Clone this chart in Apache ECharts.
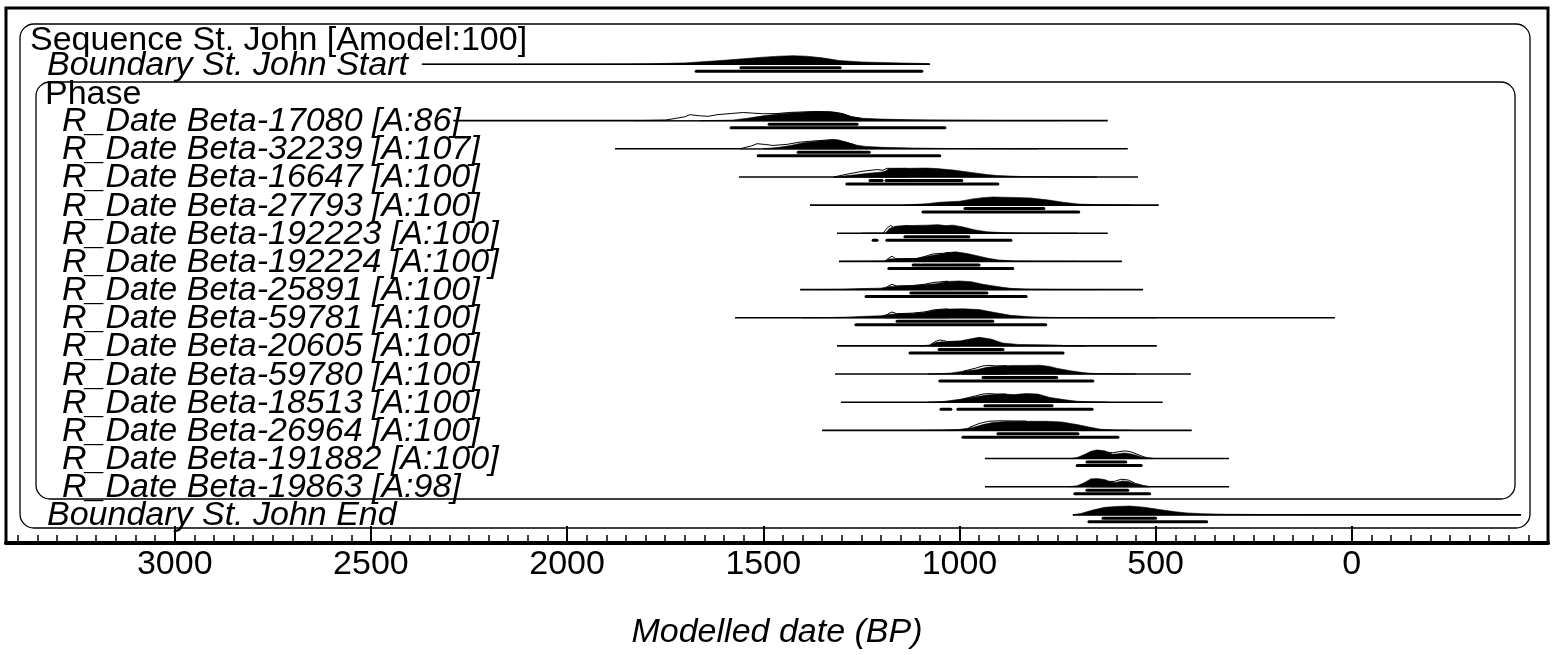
<!DOCTYPE html>
<html><head><meta charset="utf-8">
<script src="https://cdn.jsdelivr.net/npm/echarts@6/dist/echarts.min.js"></script>
<style>html,body{margin:0;padding:0;background:#fff}#c{width:1556px;height:655px}</style>
</head><body><div id="c"></div>
<script>
// ---------- DATA ----------
const rowNames = [
  "Sequence St. John [Amodel:100]",
  "Boundary St. John Start",
  "Phase",
  "R_Date Beta-17080 [A:86]",
  "R_Date Beta-32239 [A:107]",
  "R_Date Beta-16647 [A:100]",
  "R_Date Beta-27793 [A:100]",
  "R_Date Beta-192223 [A:100]",
  "R_Date Beta-192224 [A:100]",
  "R_Date Beta-25891 [A:100]",
  "R_Date Beta-59781 [A:100]",
  "R_Date Beta-20605 [A:100]",
  "R_Date Beta-59780 [A:100]",
  "R_Date Beta-18513 [A:100]",
  "R_Date Beta-26964 [A:100]",
  "R_Date Beta-191882 [A:100]",
  "R_Date Beta-19863 [A:98]",
  "Boundary St. John End"
];
const xTickLabels = [3000, 2500, 2000, 1500, 1000, 500, 0];

// rows that carry a distribution
const distRows = [1, 3, 4, 5, 6, 7, 8, 9, 10, 11, 12, 13, 14, 15, 16, 17];
// extent of each distribution's base line (BP)
const lineFrom = [2370, 2290, 1878, 1562, 1381, 1312, 1307, 1406, 1572, 1312, 1317, 1302, 1350, 935, 935, 711];
const lineTo   = [1075,  622,  571,  545,  492,  622,  586,  532,   43,  497,  410,  482,  408, 313, 313, -431];

// highest posterior density ranges (BP)
const range68 = [
  [[1557,1304]], [[1485,1261]], [[1411,1230]], [[1228,1197],[1187,994]], [[986,785]],
  [[1139,976]], [[1118,1100],[1096,950]], [[1124,930]], [[1159,915]], [[1052,889]],
  [[940,752]], [[935,764]], [[902,698]], [[675,576]], [[675,571]], [[634,500]]
];
const range95 = [
  [[1671,1096]], [[1582,1037]], [[1513,1050]], [[1287,902]], [[1093,696]],
  [[1220,1210],[1185,869]], [[1180,864]], [[1238,830]], [[1264,780]], [[1126,736]],
  [[1050,660]], [[1047,1022],[1004,662]], [[991,596]], [[700,537]], [[706,515]], [[670,370]]
];

// posterior (modelled) probability, relative: [BP, p]
const postStart = [[2370,0],[2000,0.01],[1850,0.03],[1789,0.05],[1700,0.15],[1600,0.42],[1500,0.75],[1460,0.85],[1424,0.9],[1390,0.85],[1350,0.68],[1307,0.4],[1250,0.25],[1150,0.14],[1080,0.08],[1075,0]];
const post17080 = [[1660,0],[1580,0.05],[1540,0.25],[1500,0.5],[1460,0.7],[1420,0.82],[1390,0.9],[1360,0.95],[1320,0.9],[1295,0.7],[1275,0.4],[1250,0.25],[1200,0.16],[1120,0.09],[1040,0.05],[900,0.015],[750,0]];
const post32239 = [[1500,0],[1460,0.15],[1430,0.35],[1400,0.6],[1363,0.8],[1330,0.93],[1310,0.95],[1290,0.7],[1265,0.4],[1240,0.25],[1195,0.15],[1120,0.08],[1050,0.04],[900,0.01],[800,0]];
const post16647 = [[1320,0],[1290,0.12],[1271,0.2],[1228,0.4],[1200,0.5],[1190,0.58],[1180,0.85],[1134,0.9],[1083,0.93],[1057,0.87],[1016,0.72],[966,0.45],[930,0.25],[904,0.15],[846,0.05],[762,0.01],[650,0]];
const post27793 = [[1140,0],[1083,0.15],[1050,0.3],[999,0.4],[966,0.65],[940,0.78],[915,0.85],[863,0.8],[820,0.75],[777,0.55],[736,0.3],[693,0.1],[634,0.03],[560,0]];
const post192223 = [[1250,0],[1215,0.04],[1200,0.01],[1188,0.05],[1178,0.5],[1165,0.7],[1130,0.8],[1083,0.85],[1055,0.9],[1035,0.8],[1016,0.85],[990,0.65],[960,0.35],[930,0.15],[880,0.05],[800,0.01],[700,0]];
const post192224 = [[1300,0],[1230,0.02],[1190,0.05],[1180,0.25],[1150,0.28],[1110,0.3],[1090,0.45],[1067,0.65],[1050,0.75],[1030,0.92],[1010,1.0],[980,0.82],[950,0.55],[930,0.35],[900,0.15],[860,0.05],[800,0.01],[700,0]];
const post25891 = [[1360,0],[1300,0.03],[1250,0.1],[1200,0.15],[1182,0.3],[1160,0.35],[1120,0.4],[1090,0.5],[1060,0.62],[1030,0.85],[1000,0.9],[970,0.82],[940,0.55],[900,0.3],[870,0.13],[830,0.05],[750,0.01],[650,0]];
const post59781 = [[1400,0],[1330,0.02],[1280,0.08],[1240,0.15],[1200,0.2],[1182,0.35],[1160,0.4],[1120,0.45],[1090,0.55],[1060,0.8],[1030,0.9],[990,0.93],[950,0.85],[910,0.55],[870,0.25],[820,0.1],[760,0.03],[650,0.01],[500,0]];
const post20605 = [[1100,0],[1075,0.1],[1060,0.35],[1045,0.42],[1030,0.4],[1000,0.5],[970,0.75],[950,0.9],[920,0.72],[890,0.3],[850,0.15],[800,0.12],[760,0.1],[730,0.03],[680,0]];
const post59780 = [[1080,0],[1050,0.02],[1020,0.12],[990,0.3],[956,0.45],[930,0.7],[900,0.82],[863,0.9],[830,0.9],[795,0.92],[770,0.8],[752,0.6],[718,0.35],[690,0.18],[667,0.08],[609,0.02],[550,0]];
const post18513 = [[1080,0],[1040,0.08],[1000,0.3],[960,0.55],[930,0.75],[890,0.85],[860,0.8],[830,0.9],[800,0.85],[770,0.5],[730,0.25],[700,0.1],[660,0.04],[620,0]];
const post26964 = [[1100,0],[1062,0.02],[1000,0.1],[966,0.3],[940,0.6],[915,0.82],[880,0.93],[830,0.95],[780,0.95],[740,0.88],[700,0.6],[670,0.35],[640,0.12],[600,0.03],[560,0]];
const post191882 = [[715,0],[700,0.1],[683,0.4],[665,0.75],[650,0.9],[630,0.8],[609,0.45],[595,0.5],[580,0.58],[565,0.5],[550,0.35],[535,0.15],[522,0.05],[505,0]];
const post19863 = [[720,0],[700,0.1],[685,0.35],[665,0.8],[650,0.85],[630,0.75],[615,0.5],[600,0.45],[585,0.6],[570,0.55],[550,0.25],[530,0.08],[515,0]];
const postEnd = [[711,0],[690,0.15],[660,0.5],[630,0.78],[600,0.88],[566,0.92],[530,0.8],[490,0.55],[450,0.32],[420,0.2],[380,0.12],[320,0.06],[200,0.03],[50,0.01],[-431,0]];

// unmodelled (prior) probability where it shows above the posterior: [BP, p]
const prior17080 = [[1830,0],[1750,0.05],[1700,0.4],[1687,0.62],[1660,0.5],[1640,0.45],[1618,0.62],[1580,0.75],[1551,0.85],[1525,0.78],[1500,0.72],[1465,0.74],[1432,0.86],[1400,0.9],[1370,0.95],[1330,0.92],[1300,0.75],[1275,0.4],[1250,0.25]];
const prior32239 = [[1560,0],[1530,0.3],[1516,0.53],[1495,0.45],[1475,0.35],[1440,0.46],[1406,0.7],[1363,0.84],[1322,0.95],[1290,0.7],[1265,0.4]];
const prior16647 = [[1320,0],[1279,0.35],[1246,0.6],[1210,0.77],[1195,0.7],[1185,0.9],[1134,0.9]];
const prior192223 = [[1195,0],[1183,0.6],[1175,0.82],[1168,0.6],[1160,0.72],[1130,0.8]];
const prior192224 = [[1190,0],[1180,0.35],[1172,0.55],[1164,0.3],[1150,0.28],[1110,0.3],[1090,0.5],[1067,0.78],[1055,0.82],[1040,0.85],[1025,0.95]];
const prior25891 = [[1190,0.1],[1180,0.4],[1172,0.55],[1160,0.38],[1120,0.42],[1090,0.55],[1065,0.75],[1050,0.8],[1030,0.88]];
const prior59781 = [[1190,0.15],[1180,0.45],[1172,0.6],[1160,0.42],[1120,0.48],[1090,0.6],[1065,0.82],[1050,0.88],[1030,0.92]];
const prior20605 = [[1075,0.1],[1062,0.45],[1050,0.62],[1040,0.55],[1030,0.45],[1000,0.5]];
const prior59780 = [[990,0.3],[960,0.6],[940,0.85],[925,0.9],[905,0.85],[880,0.88]];
const prior18513 = [[990,0.35],[960,0.65],[940,0.85],[925,0.9],[905,0.85],[880,0.85]];
const prior26964 = [[975,0.3],[950,0.72],[925,0.95],[900,1.0],[860,0.98],[830,0.97]];
const prior191882 = [[650,0.85],[630,0.7],[610,0.6],[595,0.7],[580,0.8],[565,0.72],[550,0.5],[535,0.25],[522,0.08],[505,0]];
const prior19863 = [[665,0.8],[645,0.65],[625,0.55],[605,0.55],[588,0.78],[570,0.7],[552,0.35],[530,0.1],[515,0]];

const posteriors = [postStart, post17080, post32239, post16647, post27793, post192223, post192224, post25891, post59781, post20605, post59780, post18513, post26964, post191882, post19863, postEnd];
const priors = [null, prior17080, prior32239, prior16647, null, prior192223, prior192224, prior25891, prior59781, prior20605, prior59780, prior18513, prior26964, prior191882, prior19863, null];

// ---------- STYLE ----------
const FONT = '"Liberation Sans", Arial, Helvetica, sans-serif';
const PEAK = 0.34;        // row units for p = 1
const OFF68 = 3.5, OFF95 = 7;  // px below base line
const X_MIN = -500, X_MAX = 3430;

function labelIndent(name) {
  if (name.startsWith('Sequence')) return 24;
  if (name.startsWith('Phase')) return 39;
  if (name.startsWith('Boundary')) return 41;
  return 56;
}
function labelDy(name) {
  if (name.startsWith('Sequence')) return 4;
  if (name.startsWith('Phase')) return 2;
  return 1;
}

const chart = echarts.init(document.getElementById('c'), null, {renderer: 'canvas'});

function renderDist(params, api) {
  const i = params.dataIndex;
  const row = distRows[i];
  const children = [];
  const a = api.coord([lineFrom[i], row]), b = api.coord([lineTo[i], row]);
  children.push({type: 'line', shape: {x1: a[0], y1: a[1], x2: b[0], y2: b[1]}, style: {stroke: '#000', lineWidth: 1.6}});
  const poly = (pts) => {
    const out = pts.map(([bp, p]) => api.coord([bp, row - p * PEAK]));
    out.unshift(api.coord([pts[0][0], row]));
    out.push(api.coord([pts[pts.length - 1][0], row]));
    return out;
  };
  if (priors[i]) {
    children.push({type: 'polygon', shape: {points: poly(priors[i])}, style: {fill: '#fff', stroke: '#000', lineWidth: 1}});
  }
  children.push({type: 'polygon', shape: {points: poly(posteriors[i])}, style: {fill: '#000', stroke: '#000', lineWidth: 0.6}});
  const bar = (rng, off) => rng.forEach(([s, e]) => {
    const p = api.coord([s, row]), q = api.coord([e, row]);
    children.push({type: 'line', shape: {x1: p[0], y1: p[1] + off, x2: q[0], y2: q[1] + off},
      style: {stroke: '#000', lineWidth: 3, lineCap: 'round'}});
  });
  bar(range68[i], OFF68);
  bar(range95[i], OFF95);
  return {type: 'group', children};
}

function renderLabel(params, api) {
  const i = params.dataIndex;
  const name = rowNames[i];
  const pt = api.coord([X_MAX, i]);
  const italic = name.startsWith('Boundary') || name.startsWith('R_Date');
  return {
    type: 'text',
    x: pt[0] + labelIndent(name),
    y: pt[1] + labelDy(name),
    style: {
      text: name,
      font: (italic ? 'italic ' : '') + '34px ' + FONT,
      fill: '#000',
      align: 'left', verticalAlign: 'middle',
      textAlign: 'left', textVerticalAlign: 'middle'
    },
    z2: 10
  };
}

const option = {
  animation: false,
  backgroundColor: '#fff',
  grid: {left: 6, right: 8, top: 8, bottom: 110, show: true, borderColor: '#000', borderWidth: 3, backgroundColor: 'transparent', containLabel: false},
  xAxis: [
    {
      type: 'value', min: X_MIN, max: X_MAX, interval: 500, inverse: true, position: 'bottom',
      axisLine: {show: true, onZero: false, lineStyle: {color: '#000', width: 4}},
      axisTick: {show: true, inside: true, length: 17, lineStyle: {color: '#000', width: 2}},
      axisLabel: {show: true, margin: 5, color: '#000', fontSize: 34, fontFamily: FONT,
        formatter: (v) => xTickLabels.includes(v) ? String(v) : ''},
      splitLine: {show: false},
      name: 'Modelled date (BP)', nameLocation: 'middle', nameGap: 73,
      nameTextStyle: {fontSize: 34, fontStyle: 'italic', color: '#000', fontFamily: FONT}
    },
    {
      type: 'value', min: X_MIN, max: X_MAX, interval: 50, inverse: true, position: 'bottom',
      axisLine: {show: false, onZero: false},
      axisTick: {show: true, inside: true, length: 8, lineStyle: {color: '#000', width: 1.5}},
      axisLabel: {show: false}, splitLine: {show: false}
    }
  ],
  yAxis: {type: 'value', min: -1, max: 18, inverse: true, show: false},
  graphic: [
    {type: 'rect', z: 0, shape: {x: 20, y: 24, width: 1510, height: 504, r: 14}, style: {fill: 'none', stroke: '#000', lineWidth: 1.3}},
    {type: 'rect', z: 0, shape: {x: 36, y: 82, width: 1479, height: 417, r: 14}, style: {fill: 'none', stroke: '#000', lineWidth: 1.3}}
  ],
  series: [
    {
      type: 'custom', name: 'distributions', xAxisIndex: 0, yAxisIndex: 0, clip: false,
      renderItem: renderDist,
      encode: {x: 0, y: 1},
      data: distRows.map((r, i) => [lineFrom[i], r]),
      z: 3
    },
    {
      type: 'custom', name: 'labels', xAxisIndex: 0, yAxisIndex: 0, clip: false,
      renderItem: renderLabel,
      encode: {x: 0, y: 1},
      data: rowNames.map((n, i) => [X_MAX, i]),
      z: 5
    }
  ]
};
chart.setOption(option);
</script>
</body></html>
